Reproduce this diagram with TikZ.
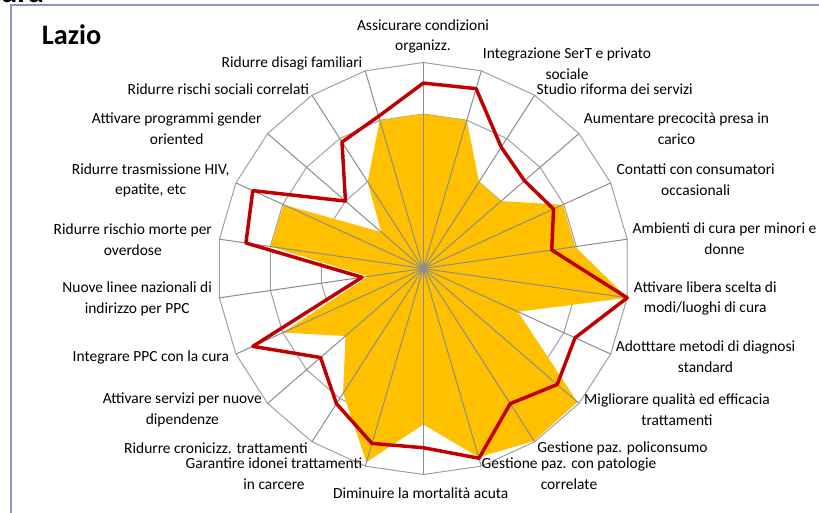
\documentclass[tikz,border=0pt]{standalone}
\usepackage{fontspec}
\setmainfont{Carlito}
\definecolor{gold}{HTML}{FFC000}
\definecolor{dred}{HTML}{C00000}
\definecolor{ringgray}{HTML}{A0A0A0}
\definecolor{spokegray}{HTML}{8C8C8C}
\definecolor{framecol}{HTML}{8A96C2}
\def\rad{206}
\begin{document}
\begin{tikzpicture}[x=0.75pt,y=-0.75pt,
  lbl/.style={align=center, font=\fontsize{11.6}{15.5}\selectfont, inner sep=0pt, text=black},
  ring/.style={draw=ringgray, line width=0.75pt},
  spoke/.style={draw=spokegray, line width=0.75pt},
  redline/.style={draw=dred, line width=2.6pt, line join=round},
  goldfill/.style={fill=gold}]
\useasboundingbox (0,0) rectangle (819,513);
\fill[white] (0,0) rectangle (819,513);
% frame of the slide box
\draw[framecol, line width=1.5pt] (11,513) -- (11,5.3) -- (819,5.3);
% cut-off heading fragment
\begin{scope}
\clip (0,0) rectangle (819,513);
\node[anchor=base west, font=\bfseries\fontsize{24}{24}\selectfont, inner sep=0pt] (frag) at (0,2.5) {ura};
\end{scope}
% title
\node[anchor=base west, font=\bfseries\fontsize{21.2}{21.2}\selectfont, inner sep=0pt] (title) at (41.7,44.3) {Lazio};
% radar chart
\begin{scope}[shift={(423.3,268.5)}, yscale=-1]
  \foreach \f in {0.25,0.5,0.75,1}{
    \draw[ring] (90:{\f*\rad}) \foreach \k in {1,...,21}{ -- ({90-\k*360/22}:{\f*\rad}) } -- cycle;
  }
  \fill[goldfill] (90:{0.75*\rad}) \foreach \v [count=\k] in {.75,.50,.50,.745,.745,1.0,.505,.99,.995,.955,.757,.98,.72,.50,.75,.27,.75,.745,.27,.50,.75}{ -- ({90-\k*360/22}:{\v*\rad}) } -- cycle;
  \foreach \k in {0,...,21}{
    \draw[spoke] (0,0) -- ({90-\k*360/22}:\rad);
  }
  \fill[spokegray] (0,0) circle (2.5);
  \draw[redline] (90:{0.90*\rad}) \foreach \v [count=\k] in {.91,.70,.65,.695,.63,1.0,.81,.86,.78,.96,.87,.885,.78,.66,.91,.30,.87,.91,.50,.73,.77}{ -- ({90-\k*360/22}:{\v*\rad}) } -- cycle;
\end{scope}
% axis labels
\node[lbl] (l0) at (423,36.5) {Assicurare condizioni\\organizz.};
\node[lbl] (l1) at (567,64) {Integrazione SerT e privato\\sociale};
\node[lbl] (l2) at (614.7,89.3) {Studio riforma dei servizi};
\node[lbl] (l3) at (676.5,128.8) {Aumentare precocità presa in\\carico};
\node[lbl] (l4) at (695.7,180) {Contatti con consumatori\\occasionali};
\node[lbl] (l5) at (724.5,239) {Ambienti di cura per minori e\\donne};
\node[lbl] (l6) at (705.3,298.5) {Attivare libera scelta di\\modi/luoghi di cura};
\node[lbl] (l7) at (705.5,357) {Adotttare metodi di diagnosi\\standard};
\node[lbl] (l8) at (677,409.5) {Migliorare qualità ed efficacia\\trattamenti};
\node[lbl] (l9) at (622.5,448) {Gestione paz. policonsumo};
\node[lbl] (l10) at (569,474) {Gestione paz. con patologie\\correlate};
\node[lbl] (l11) at (420.7,493.3) {Diminuire la mortalità acuta};
\node[lbl] (l12) at (274,473.7) {Garantire idonei trattamenti\\in carcere};
\node[lbl] (l13) at (216,448) {Ridurre cronicizz. trattamenti};
\node[lbl] (l14) at (182.3,410) {Attivare servizi per nuove\\dipendenze};
\node[lbl] (l15) at (150.8,357.3) {Integrare PPC con la cura};
\node[lbl] (l16) at (137.2,298.7) {Nuove linee nazionali di\\indirizzo per PPC};
\node[lbl] (l17) at (132.8,239.5) {Ridurre rischio morte per\\overdose};
\node[lbl] (l18) at (150.7,180.3) {Ridurre trasmissione HIV,\\epatite, etc};
\node[lbl] (l19) at (176.7,128.8) {Attivare programmi gender\\oriented};
\node[lbl] (l20) at (218.3,89.3) {Ridurre rischi sociali correlati};
\node[lbl] (l21) at (292,63.3) {Ridurre disagi familiari};
\end{tikzpicture}
\end{document}
